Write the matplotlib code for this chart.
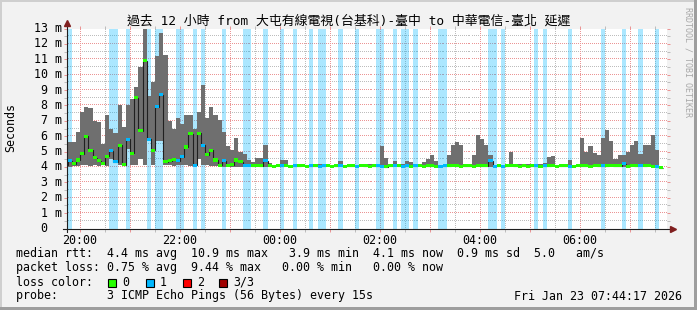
import numpy as np
import pandas as pd
import matplotlib
matplotlib.use("Agg")
import matplotlib.pyplot as plt
import matplotlib.dates as mdates
from matplotlib import ticker, transforms
from matplotlib.patches import Rectangle

# ========== data ==========
title = "過去 12 小時 from 大屯有線電視(台基科)-臺中 to 中華電信-臺北 延遲"
first_step = "2026-01-22 19:40"      # start of the first 5 min step
view_start = "2026-01-22 19:44:17"
view_end = "2026-01-23 07:44:17"

# smoke top / bottom and median rtt in ms, one row = one hour of 5 min steps
smoke_hi = [
    4.6, 5.6, 5.6, 6.3, 7.6, 7.9, 7.8, 7.0, 6.9, 5.5, 7.4, 6.5,
    6.2, 8.0, 6.6, 8.0, 8.4, 9.2, 10.5, 13.1, 8.6, 9.5, 11.2, 12.7,
    11.3, 7.0, 6.5, 7.2, 6.8, 7.4, 7.4, 6.5, 7.6, 9.3, 7.2, 7.9,
    7.4, 7.05, 6.3, 5.35, 5.1, 5.9, 5.0, 4.85, 4.45, 4.35, 4.55, 4.6,
    5.4, 4.25, 4.15, 4.15, 4.45, 4.45, 4.15, 4.2, 4.15, 4.18, 4.15, 4.2,
    4.15, 4.2, 4.2, 4.15, 4.15, 4.18, 4.4, 4.15, 4.15, 4.18, 4.15, 4.2,
    4.15, 4.18, 4.15, 4.2, 5.35, 4.6, 4.15, 4.4, 4.15, 4.2, 4.4, 4.35,
    4.15, 4.15, 4.3, 4.5, 4.77, 4.4, 4.15, 4.15, 4.8, 5.4, 5.65, 5.4,
    4.15, 4.15, 4.8, 6.1, 5.85, 5.4, 4.8, 4.15, 4.15, 4.15, 4.15, 5.0,
    4.2, 4.2, 4.2, 4.2, 4.2, 4.2, 4.2, 4.25, 4.66, 4.7, 4.15, 4.15,
    4.15, 4.45, 4.15, 4.15, 5.9, 4.95, 5.35, 4.9, 4.75, 5.9, 6.4, 5.7,
    4.55, 4.8, 4.75, 5.0, 5.45, 5.7, 4.85, 5.45, 5.4, 6.1, 5.1, 4.0,
]
smoke_lo = [
    4.0, 4.0, 4.05, 4.05, 4.1, 4.1, 4.05, 4.1, 4.05, 4.1, 4.05, 4.5,
    4.3, 4.1, 4.05, 5.2, 4.1, 4.1, 4.5, 4.1, 5.7, 4.1, 5.7, 5.7,
    4.1, 4.1, 4.05, 4.1, 4.1, 4.1, 4.05, 4.0, 4.5, 4.1, 4.1, 4.05,
    4.05, 4.0, 4.0, 4.0, 4.0, 4.0, 4.0, 4.0, 4.0, 4.0, 3.98, 4.0,
    4.0, 4.02, 4.0, 4.02, 4.0, 4.0, 3.98, 4.0, 4.02, 4.0, 4.0, 3.98,
    4.0, 3.98, 4.0, 4.02, 4.0, 4.0, 3.98, 4.0, 4.0, 4.02, 4.0, 3.98,
    4.0, 3.98, 4.0, 4.0, 3.97, 3.98, 4.0, 4.0, 3.98, 4.0, 4.0, 3.98,
    4.0, 4.02, 4.0, 3.98, 4.0, 4.0, 3.98, 4.0, 4.0, 4.0, 3.98, 4.0,
    4.0, 4.0, 3.98, 4.0, 4.0, 3.98, 3.98, 4.0, 4.0, 3.98, 4.0, 4.0,
    4.0, 3.98, 4.0, 4.0, 4.0, 3.98, 4.0, 4.0, 4.0, 3.98, 3.97, 4.0,
    4.0, 3.98, 4.0, 4.0, 3.98, 4.0, 4.0, 3.98, 4.0, 4.0, 3.98, 4.0,
    4.0, 3.98, 4.0, 4.0, 3.98, 4.0, 3.98, 4.0, 4.0, 3.98, 3.95, 3.9,
]
median = [
    4.1, 4.4, 4.2, 4.45, 4.85, 6.0, 5.1, 4.6, 4.4, 4.2, 4.7, 5.05,
    4.35, 5.4, 4.15, 5.8, 4.9, 8.5, 6.35, 10.9, 5.8, 5.1, 7.9, 8.7,
    4.35, 4.4, 4.5, 4.4, 4.65, 5.3, 6.15, 4.1, 6.2, 5.4, 4.8, 5.1,
    4.45, 4.1, 4.4, 4.1, 4.15, 4.45, 4.35, 4.1, 4.1, 4.08, 4.1, 4.07,
    4.4, 4.08, 4.06, 4.1, 4.07, 4.1, 4.06, 4.08, 4.07, 4.1, 4.06, 4.08,
    4.07, 4.05, 4.08, 4.1, 4.06, 4.07, 4.1, 4.05, 4.07, 4.08, 4.06, 4.1,
    4.07, 4.05, 4.08, 4.07, 4.06, 4.02, 4.08, 4.1, 4.07, 4.06, 4.08, 4.05,
    4.07, 4.1, 4.06, 4.08, 4.07, 4.05, 4.06, 4.08, 4.07, 4.1, 4.08, 4.06,
    4.07, 4.08, 4.06, 4.1, 4.08, 4.07, 4.4, 4.06, 4.07, 4.05, 4.07, 4.1,
    4.08, 4.06, 4.07, 4.05, 4.08, 4.07, 4.06, 4.08, 4.07, 4.1, 4.06, 4.08,
    4.07, 4.05, 4.06, 4.1, 4.08, 4.07, 4.06, 4.1, 4.08, 4.07, 4.08, 4.1,
    4.08, 4.07, 4.2, 4.06, 4.1, 4.08, 4.1, 4.07, 4.1, 4.06, 4.02, 3.95,
]
# pings lost (of 3) per step
lost = [
    0, 1, 0, 0, 0, 0, 0, 0, 0, 0, 0, 1,
    1, 0, 0, 1, 0, 0, 0, 0, 1, 0, 1, 1,
    0, 0, 0, 1, 1, 0, 0, 1, 0, 1, 0, 0,
    0, 0, 1, 0, 0, 0, 0, 1, 1, 0, 0, 0,
    1, 0, 0, 0, 1, 0, 0, 1, 0, 0, 0, 1,
    0, 1, 1, 0, 0, 0, 1, 0, 0, 0, 1, 0,
    0, 0, 0, 1, 1, 0, 0, 1, 0, 1, 1, 0,
    1, 0, 0, 0, 0, 0, 1, 1, 0, 0, 0, 0,
    0, 0, 0, 0, 0, 0, 1, 1, 0, 1, 0, 0,
    0, 0, 0, 0, 0, 1, 0, 1, 0, 0, 0, 0,
    0, 1, 0, 0, 0, 0, 0, 0, 0, 1, 0, 0,
    0, 0, 1, 0, 0, 0, 1, 0, 0, 0, 1, 0,
]
loss_labels = ["0", "1", "2", "3/3"]
loss_colors = ["#26ff00", "#00b8ff", "#ff0000", "#a00000"]
ytick_values = list(range(0, 14))
ytick_labels = ["0"] + [f"{v} m" for v in range(1, 14)]

stat_rtt = "median rtt:  4.4 ms avg  10.9 ms max   3.9 ms min  4.1 ms now  0.9 ms sd  5.0   am/s"
stat_loss = "packet loss: 0.75 % avg  9.44 % max   0.00 % min   0.00 % now"
probe_txt = "probe:       3 ICMP Echo Pings (56 Bytes) every 15s"
stamp_txt = "Fri Jan 23 07:44:17 2026"
rrd_txt = "RRDTOOL / TOBI OETIKER"

# ========== style ==========
W, H = 697, 310
BACK = "#f2f2f2"
SHADE_A = "#cfcfcf"
SHADE_B = "#9e9e9e"
GRID = "#bdbdbd"
MGRID = "#eb9595"
ARROW = "#801f1f"
AXIS = "#1f1f1f"
SMOKE = "#6f6f6f"
MONO = "DejaVu Sans Mono"
FS = 8.4


def px(x, y):
    # figure pixel (from top-left) -> figure fraction
    return x / W, 1 - y / H


fig = plt.figure(figsize=(W / 100, H / 100), dpi=100, facecolor=BACK)
ax = fig.add_axes([67 / W, 1 - 228.5 / H, 600 / W, 200 / H])
ax.set_facecolor("white")

steps = pd.date_range(first_step, periods=len(median), freq="5min")
x = mdates.date2num(steps)
width = 5 / 1440.0
hi = np.array(smoke_hi)
lo = np.array(smoke_lo)
med = np.array(median)
lost = np.array(lost)

x0 = mdates.date2num(pd.Timestamp(view_start))
x1 = mdates.date2num(pd.Timestamp(view_end))
ax.set_xlim(x0, x1)
ax.set_ylim(0, 13)

# dotted rrdtool style grid (1 px on / 1 px off)
hx = np.arange(0.5, 600, 2) / 600
vy = np.arange(0.5, 200, 2) / 200
tr_h = transforms.blended_transform_factory(ax.transAxes, ax.transData)
tr_v = transforms.blended_transform_factory(ax.transData, ax.transAxes)
for v in np.arange(0.5, 13.01, 0.5):
    col = MGRID if v % 1 == 0 else GRID
    ax.plot(hx, np.full_like(hx, v), ",", color=col, transform=tr_h, zorder=0.5)
hours = pd.date_range("2026-01-22 20:00", "2026-01-23 07:30", freq="30min")
for t in hours:
    col = MGRID if t.minute == 0 else GRID
    ax.plot(np.full_like(vy, mdates.date2num(t)), vy, ",", color=col,
            transform=tr_v, zorder=0.5)

# loss background stripes
m = lost > 0
ax.bar(x[m], 13, bottom=0, width=width, align="edge", color="#00b8ff",
       alpha=0.33, linewidth=0, zorder=1)
# smoke
ax.bar(x, hi - lo, bottom=lo, width=width, align="edge", color=SMOKE,
       linewidth=0, zorder=2)
# median line + loss coloured marks
edges = np.append(x, x[-1] + width)
ax.stairs(med, edges, baseline=None, color="#202020", lw=0.8, zorder=3)
ax.bar(x, 0.2, bottom=med - 0.1, width=width, align="edge",
       color=[loss_colors[l] for l in lost], linewidth=0, zorder=4)

# ticks
ax.xaxis.set_major_locator(mdates.HourLocator())
ax.xaxis.set_minor_locator(mdates.MinuteLocator(byminute=[30]))
ax.xaxis.set_major_formatter(ticker.FuncFormatter(
    lambda v, _: mdates.num2date(v).strftime("%H:%M") if mdates.num2date(v).hour % 2 == 0 else ""))
ax.yaxis.set_major_locator(ticker.MultipleLocator(1))
ax.yaxis.set_minor_locator(ticker.MultipleLocator(0.5))
ax.yaxis.set_major_formatter(ticker.NullFormatter())
ax.tick_params(which="major", length=2, width=0.72, color=MGRID, direction="out",
               top=True, right=True, labelsize=FS, pad=2)
ax.tick_params(which="minor", length=2, width=0.72, color=GRID, direction="out",
               top=True, right=True)
for lab in ax.get_xticklabels():
    lab.set_family(MONO)

for s in ax.spines.values():
    s.set_visible(False)

# axes with arrows
ax.plot([-4 / 600, 1 + 3 / 600], [0, 0], transform=ax.transAxes, color=AXIS,
        lw=0.8, clip_on=False, zorder=6)
ax.plot([0, 0], [-3 / 200, 1 + 3 / 200], transform=ax.transAxes, color=AXIS,
        lw=0.8, clip_on=False, zorder=6)
ax.plot([1 + 6 / 600], [0], transform=ax.transAxes, marker=">", ms=4.5,
        color=ARROW, clip_on=False, zorder=7)
ax.plot([0], [1 + 6 / 200], transform=ax.transAxes, marker="^", ms=4.5,
        color=ARROW, clip_on=False, zorder=7)

# y tick labels
ytr = transforms.blended_transform_factory(fig.transFigure, ax.transData)
for v, s in zip(ytick_values, ytick_labels):
    xr = 61.5 if v else 47.5
    ax.text(xr / W, v, s, transform=ytr, ha="right", va="center",
            family=MONO, fontsize=FS, clip_on=False)

fig.text(*px(11, 127), "Seconds", rotation=90, ha="center", va="center",
         family=MONO, fontsize=FS)
fig.text(*px(349, 21), title, ha="center", va="center", fontsize=9.3,
         family=[MONO, "Noto Sans CJK TC"])
fig.text(*px(688, 62), rrd_txt, rotation=270, ha="center", va="center",
         family=MONO, fontsize=6, color="#a8a8a8")

# legend block
fig.text(*px(16, 254), stat_rtt, ha="left", va="center", family=MONO, fontsize=FS)
fig.text(*px(16, 268), stat_loss, ha="left", va="center", family=MONO, fontsize=FS)
fig.text(*px(16, 282), "loss color:", ha="left", va="center", family=MONO, fontsize=FS)
box_x = [108, 146, 183, 219]
for bx, lab, col in zip(box_x, loss_labels, loss_colors):
    fx, fy = px(bx, 287)
    fig.patches.append(Rectangle((fx, fy), 8 / W, 8 / H, transform=fig.transFigure,
                                 facecolor=col, edgecolor="black", lw=0.8))
    fig.text(*px(bx + 14, 282), lab, ha="left", va="center", family=MONO, fontsize=FS)
fig.text(*px(16, 296), probe_txt, ha="left", va="center", family=MONO, fontsize=FS)
fig.text(*px(682, 296), stamp_txt, ha="right", va="center", family=MONO, fontsize=FS)

# 3D frame
fig.patches.append(Rectangle((0, 1 - 2 / H), 1, 2 / H, transform=fig.transFigure,
                             facecolor=SHADE_A, lw=0))
fig.patches.append(Rectangle((0, 0), 2 / W, 1, transform=fig.transFigure,
                             facecolor=SHADE_A, lw=0))
fig.patches.append(Rectangle((0, 0), 1, 3 / H, transform=fig.transFigure,
                             facecolor=SHADE_B, lw=0))
fig.patches.append(Rectangle((1 - 3 / W, 0), 3 / W, 1, transform=fig.transFigure,
                             facecolor=SHADE_B, lw=0))

fig.savefig("out.png", dpi=100, facecolor=BACK)
